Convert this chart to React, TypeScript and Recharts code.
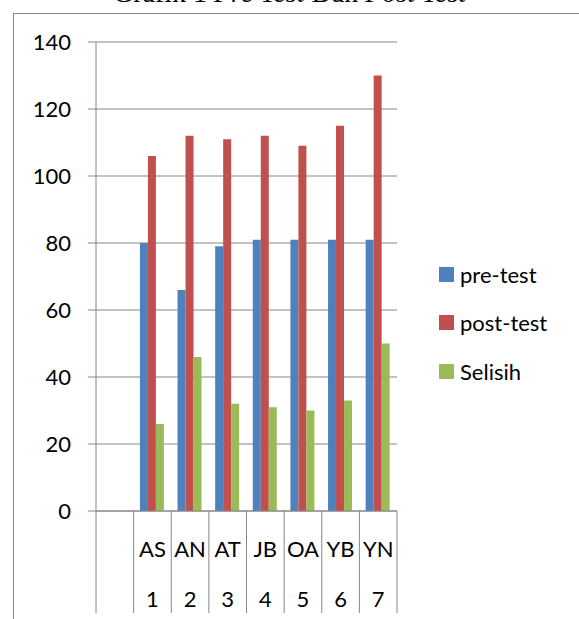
import { Bar, BarChart, CartesianGrid, XAxis, YAxis } from "recharts"

const names = ["", "AS", "AN", "AT", "JB", "OA", "YB", "YN"]
const numbers = ["", "1", "2", "3", "4", "5", "6", "7"]
const preTest = [null, 80, 66, 79, 81, 81, 81, 81]
const postTest = [null, 106, 112, 111, 112, 109, 115, 130]
const selisih = [null, 26, 46, 32, 31, 30, 33, 50]
const yTicks = [0, 20, 40, 60, 80, 100, 120, 140]

const series = [
  { key: "pre", name: "pre-test", color: "#4F81BD" },
  { key: "post", name: "post-test", color: "#C0504D" },
  { key: "sel", name: "Selisih", color: "#9BBB59" },
]

const data = names.map((n, i) => ({
  cat: String(i),
  pre: preTest[i],
  post: postTest[i],
  sel: selisih[i],
}))

const W = 579
const H = 619
const M = { top: 42, right: 182, bottom: 0, left: 0 }
const Y_AXIS_W = 96
const X_AXIS_H = 108
const BAND = (W - M.left - M.right - Y_AXIS_W) / names.length
const LINE = "#868686"
const FONT = "Lato, 'Liberation Sans', sans-serif"

// two-row category axis like the Excel original
const XTick = (props: any) => {
  const { x, y, payload } = props
  const i = Number(payload.value)
  const last = i === names.length - 1
  return (
    <g>
      <line x1={x - BAND / 2} y1={y} x2={x - BAND / 2} y2={y + 102} stroke={LINE} />
      {last && <line x1={x + BAND / 2} y1={y} x2={x + BAND / 2} y2={y + 102} stroke={LINE} />}
      <text x={x} y={y + 37} textAnchor="middle" dominantBaseline="central" fill="#000" fontSize={22} fontFamily={FONT}>
        {names[i]}
      </text>
      <text x={x} y={y + 87} textAnchor="middle" dominantBaseline="central" fill="#000" fontSize={22} fontFamily={FONT}>
        {numbers[i]}
      </text>
    </g>
  )
}

export default function App() {
  return (
    <div style={{ position: "absolute", left: 0, top: 0, width: W, height: H, overflow: "hidden", background: "#fff" }}>
      <div
        style={{
          position: "absolute",
          left: 0,
          top: -25,
          width: W,
          textAlign: "center",
          fontFamily: "'Liberation Serif', serif",
          fontSize: 28,
          lineHeight: "36px",
          color: "#000",
          whiteSpace: "nowrap",
        }}
      >
        Grafik 1 <i>Pre Test</i> Dan <i>Post Test</i>
      </div>
      <div
        style={{
          position: "absolute",
          left: 13,
          top: 13,
          width: 700,
          height: 700,
          border: `1px solid ${LINE}`,
        }}
      />
      <div style={{ position: "absolute", left: 0, top: 0 }}>
        <BarChart width={W} height={H} data={data} margin={M} barCategoryGap="16.7%" barGap={0}>
          <CartesianGrid vertical={false} stroke={LINE} />
          <XAxis
            dataKey="cat"
            height={X_AXIS_H}
            interval={0}
            tickSize={0}
            tickMargin={0}
            tickLine={false}
            axisLine={{ stroke: LINE }}
            tick={<XTick />}
          />
          <YAxis
            width={Y_AXIS_W}
            domain={[0, 140]}
            ticks={yTicks}
            tickSize={8}
            tickMargin={17}
            tickLine={{ stroke: LINE }}
            axisLine={{ stroke: LINE }}
            tick={{ fill: "#000", fontSize: 22, fontFamily: FONT }}
          />
          {series.map((s) => (
            <Bar key={s.key} dataKey={s.key} name={s.name} fill={s.color} isAnimationActive={false} />
          ))}
        </BarChart>
      </div>
      <div style={{ position: "absolute", left: 439, top: 250, fontFamily: FONT, fontSize: 22, color: "#000" }}>
        {series.map((s) => (
          <div key={s.key} style={{ display: "flex", alignItems: "center", height: 48.5 }}>
            <span style={{ width: 15, height: 15, background: s.color, marginRight: 6, display: "inline-block" }} />
            {s.name}
          </div>
        ))}
      </div>
    </div>
  )
}
